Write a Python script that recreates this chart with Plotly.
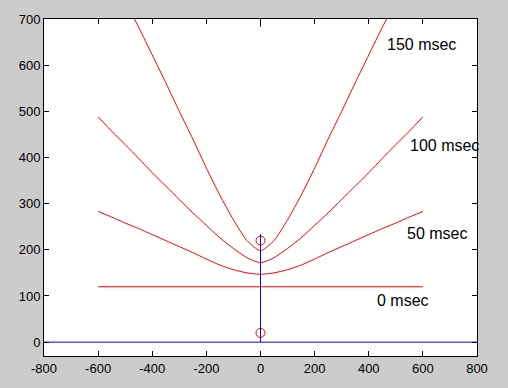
import plotly.graph_objects as go

# ---- data ----
x_off = [-600, -550, -500, -450, -400, -350, -300, -250, -200, -150, -100, -50, 0,
         50, 100, 150, 200, 250, 300, 350, 400, 450, 500, 550, 600]

t0_x = [-600, 600]
t0_y = [120, 120]

t50_y = [283, 271, 258, 246, 233, 220, 207, 194, 180, 167, 157, 150, 147,
         150, 157, 167, 180, 194, 207, 220, 233, 246, 258, 271, 283]

t100_y = [488, 457, 428, 398, 367, 338, 309, 280, 253, 226, 203, 183, 172,
          183, 203, 226, 253, 280, 309, 338, 367, 398, 428, 457, 488]

t150_x = [-466, -450, -400, -350, -300, -250, -200, -150, -100, -50, 0,
          50, 100, 150, 200, 250, 300, 350, 400, 450, 466]
t150_y = [700, 682, 622, 562, 500, 440, 377, 318, 265, 220, 198,
          220, 265, 318, 377, 440, 500, 562, 622, 682, 700]

circle_x = [0, 0]
circle_y = [20, 220]

baseline_x = [-800, 800]
baseline_y = [0, 0]

stem_x = [0, 0]
stem_y = [0, 234]
top_stub_x = [0, 0]
top_stub_y = [683, 700]

labels = ["150 msec", "100 msec", "50 msec", "0 msec"]
label_x = [461, 544, 535, 424]
label_y = [645, 425, 235, 91]

x_ticks = [-800, -600, -400, -200, 0, 200, 400, 600, 800]
y_ticks = [0, 100, 200, 300, 400, 500, 600, 700]

RED = "#ff0000"
BLUE = "#0000ff"
GRAY = "#cccccc"

fig = go.Figure()
line_kw = dict(mode="lines", hoverinfo="skip", showlegend=False)

fig.add_trace(go.Scatter(x=t0_x, y=t0_y, line=dict(color=RED, width=1), **line_kw))
fig.add_trace(go.Scatter(x=x_off, y=t50_y, line=dict(color=RED, width=1, shape="spline", smoothing=0.6), **line_kw))
fig.add_trace(go.Scatter(x=x_off, y=t100_y, line=dict(color=RED, width=1, shape="spline", smoothing=0.6), **line_kw))
fig.add_trace(go.Scatter(x=t150_x, y=t150_y, line=dict(color=RED, width=1, shape="spline", smoothing=0.6), **line_kw))

fig.add_trace(go.Scatter(x=circle_x, y=circle_y, mode="markers", hoverinfo="skip", showlegend=False,
                         marker=dict(symbol="circle-open", size=9, color=RED, line=dict(width=1, color=RED))))

fig.add_trace(go.Scatter(x=baseline_x, y=baseline_y, line=dict(color=BLUE, width=1), **line_kw))
fig.add_trace(go.Scatter(x=stem_x, y=stem_y, line=dict(color=BLUE, width=1), **line_kw))
fig.add_trace(go.Scatter(x=top_stub_x, y=top_stub_y, line=dict(color=BLUE, width=1), **line_kw))

for txt, lx, ly in zip(labels, label_x, label_y):
    fig.add_annotation(x=lx, y=ly, text=txt, showarrow=False, xanchor="left", yanchor="middle",
                       font=dict(family="Liberation Sans, Arial, sans-serif", size=16, color="black"))

axis_common = dict(showgrid=False, zeroline=False, showline=True, linecolor="black", linewidth=1,
                   mirror="ticks", ticks="inside", ticklen=5, tickwidth=1, tickcolor="black",
                   tickfont=dict(family="Liberation Sans, Arial, sans-serif", size=13, color="black"))

fig.update_xaxes(range=[-800, 800], tickvals=x_ticks, ticktext=[str(v) for v in x_ticks], **axis_common)
fig.update_yaxes(range=[-30, 700], tickvals=y_ticks, ticktext=[str(v) for v in y_ticks], **axis_common)

fig.update_layout(width=508, height=388, margin=dict(l=44, r=31, t=17, b=30),
                  paper_bgcolor=GRAY, plot_bgcolor="white")

fig.write_html("out.html", config={"displayModeBar": False},
               post_script="document.body.style.margin='0';document.body.style.background='%s';" % GRAY)
